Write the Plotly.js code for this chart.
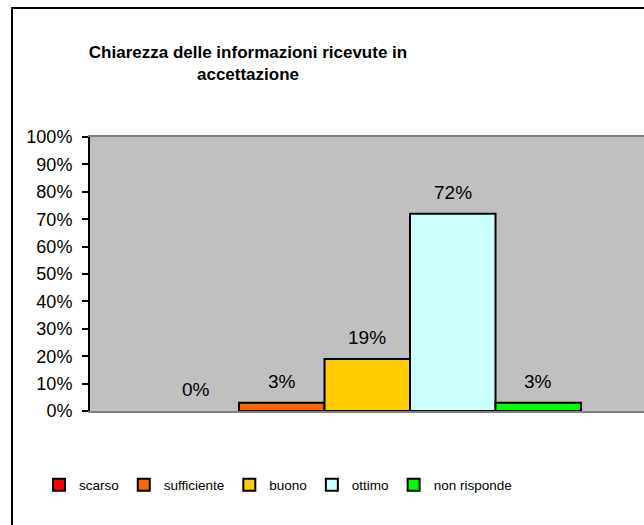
<!DOCTYPE html>
<html>
<head>
<meta charset="utf-8">
<script src="https://cdn.plot.ly/plotly-3.0.1.min.js"></script>
<style>
  html, body { margin: 0; padding: 0; background: #fff; overflow: hidden; }
  #wrap { position: relative; width: 644px; height: 525px; overflow: hidden; }
  #chart { width: 644px; height: 525px; }
  #frame { position: absolute; left: 11px; top: 7px; width: 700px; height: 600px;
           border: 2px solid #000; pointer-events: none; box-sizing: border-box; }
</style>
</head>
<body>
<div id="wrap">
  <div id="chart"></div>
  <div id="frame"></div>
</div>
<script>
// ---- data ----
const categories = ["scarso", "sufficiente", "buono", "ottimo", "non risponde"];
const values = [0.00, 0.03, 0.19, 0.72, 0.03];
const valueLabels = ["0%", "3%", "19%", "72%", "3%"];
const colors = ["#FF0000", "#FF6600", "#FFCC00", "#CCFFFF", "#00FF00"];
const yTickVals = [0, 0.1, 0.2, 0.3, 0.4, 0.5, 0.6, 0.7, 0.8, 0.9, 1.0];
const yTickText = ["0%", "10%", "20%", "30%", "40%", "50%", "60%", "70%", "80%", "90%", "100%"];
const titleText = "Chiarezza delle informazioni ricevute in<br>accettazione";

const FONT = "Liberation Sans, Arial, Helvetica, sans-serif";

const traces = categories.map((c, i) => {
  const t = {
    type: "bar",
    name: c,
    x: [i],
    y: [values[i]],
    width: 1,
    marker: { color: colors[i], line: { color: "#000", width: 2 } },
    hoverinfo: "name+y"
  };
  if (!(values[i] > 0)) {
    // a zero-height bar draws no visible outline in the original
    t.selectedpoints = [];
    t.unselected = { marker: { opacity: 0 } };
  }
  return t;
});

const annotations = categories.map((c, i) => ({
  x: i, y: values[i], xref: "x", yref: "y",
  text: valueLabels[i], showarrow: false,
  yanchor: "bottom", yshift: 9,
  font: { family: FONT, size: 19, color: "#000" }
}));

const layout = {
  width: 644, height: 525,
  margin: { l: 90, r: 0, t: 137, b: 114, pad: 0 },
  paper_bgcolor: "#FFFFFF",
  plot_bgcolor: "#C0C0C0",
  barmode: "overlay",
  showlegend: true,
  title: {
    text: titleText,
    font: { family: FONT, size: 17, color: "#000", weight: "bold" },
    x: 248 / 644, xanchor: "center", xref: "container",
    y: 1 - 58 / 525, yanchor: "top", yref: "container"
  },
  xaxis: {
    type: "linear", range: [-1.243, 5.237],
    showticklabels: false, ticks: "", showgrid: false, zeroline: false,
    showline: true, mirror: true, linecolor: "#808080", linewidth: 2,
    fixedrange: true
  },
  yaxis: {
    range: [0, 1], tickvals: yTickVals, ticktext: yTickText,
    ticks: "outside", ticklen: 6, tickwidth: 2, tickcolor: "#000",
    showline: true, linecolor: "#000", linewidth: 2, mirror: false,
    showgrid: false, zeroline: false,
    ticklabelstandoff: 6,
    tickfont: { family: FONT, size: 18, color: "#000" },
    fixedrange: true
  },
  legend: {
    orientation: "h", x: (39 - 90) / 554, xanchor: "left",
    y: (411 - 485) / 274, yanchor: "middle",
    font: { family: FONT, size: 13.5, color: "#000" },
    bgcolor: "rgba(0,0,0,0)", traceorder: "normal", itemclick: false, itemdoubleclick: false
  },
  annotations: annotations
};

Plotly.newPlot("chart", traces, layout, { displayModeBar: false, staticPlot: true });
</script>
</body>
</html>
